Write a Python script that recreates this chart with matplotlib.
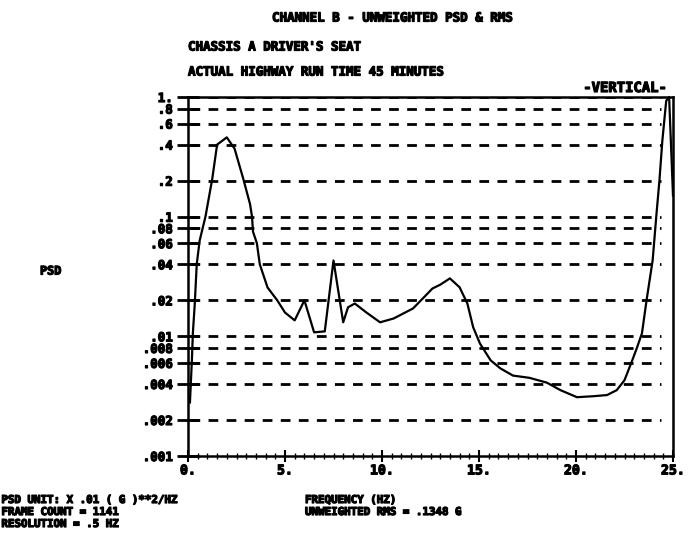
import numpy as np
import matplotlib.pyplot as plt
import matplotlib.patheffects as pe

# PSD curve (frequency in Hz, PSD in units of .01 G^2/Hz)
freq = [0.1, 0.2, 0.25, 0.35, 0.45, 0.6, 0.9, 1.25, 1.5, 2.0, 2.4, 2.85, 3.2,
        3.3, 3.35, 3.55, 3.7, 4.1, 4.6, 5.0, 5.5, 6.0, 6.5, 7.05, 7.5, 8.0,
        8.25, 8.6, 9.2, 9.9, 10.6, 11.6, 12.1, 12.6, 13.0, 13.5, 14.0, 14.4,
        14.7, 15.05, 15.6, 16.1, 16.75, 17.6, 18.5, 19.2, 20.05, 20.9, 21.6,
        22.1, 22.5, 22.9, 23.15, 23.4, 23.65, 23.95, 24.15, 24.3, 24.45, 24.65,
        24.8, 25.0]
psd = [0.0028, 0.0063, 0.0106, 0.0188, 0.040, 0.063, 0.10, 0.207, 0.40, 0.46,
       0.37, 0.207, 0.127, 0.10, 0.075, 0.06, 0.040, 0.0256, 0.020, 0.0158,
       0.0136, 0.020, 0.0108, 0.011, 0.043, 0.0131, 0.0175, 0.0188, 0.0158,
       0.0131, 0.0141, 0.0171, 0.0207, 0.0251, 0.027, 0.0305, 0.0257, 0.0188,
       0.0119, 0.0087, 0.0063, 0.0054, 0.0047, 0.0045, 0.0041, 0.00355, 0.0031,
       0.00316, 0.00323, 0.00355, 0.0043, 0.0063, 0.0081, 0.0106, 0.0207,
       0.043, 0.106, 0.2, 0.43, 0.93, 1.0, 0.15]

y_ticks = [0.001, 0.002, 0.004, 0.006, 0.008, 0.01, 0.02, 0.04, 0.06, 0.08,
           0.1, 0.2, 0.4, 0.6, 0.8, 1.0]
y_labels = [".001", ".002", ".004", ".006", ".008", ".01", ".02", ".04", ".06",
            ".08", ".1", ".2", ".4", ".6", ".8", "1."]
x_ticks = [0, 5, 10, 15, 20, 25]
x_labels = ["0.", "5.", "10.", "15.", "20.", "25."]

FONT = "DejaVu Sans Mono"
heavy = [pe.withStroke(linewidth=0.9, foreground="black")]

fig = plt.figure(figsize=(6.93, 5.41), dpi=100)
ax = fig.add_axes([188 / 693, 1 - 456 / 541, 485 / 693, 359 / 541])

ax.set_yscale("log")
ax.set_xlim(0, 25)
ax.set_ylim(0.001, 1.0)

# heavy dashed grid lines at every labelled level
for v in y_ticks[1:]:
    ax.axhline(v, xmin=0.005, xmax=0.975, color="black", lw=2.0,
               dashes=(3.5, 3.0), zorder=1)

ax.plot(freq, psd, color="black", lw=1.6, zorder=3, clip_on=False)

ax.set_yticks(y_ticks)
ax.set_yticklabels(y_labels, fontfamily=FONT, fontweight="bold", fontsize=9)
ax.yaxis.set_minor_locator(plt.NullLocator())
ax.tick_params(axis="y", which="major", direction="inout", length=16,
               width=2, pad=3)

ax.set_xticks(x_ticks)
ax.set_xticklabels(x_labels, fontfamily=FONT, fontweight="bold", fontsize=9.5)
ax.set_xticks(np.arange(0, 25.5, 0.5), minor=True)
ax.tick_params(axis="x", which="major", direction="inout", length=8,
               width=1.5, pad=2)
ax.tick_params(axis="x", which="minor", direction="inout", length=4, width=1)

for lab in ax.get_xticklabels() + ax.get_yticklabels():
    lab.set_path_effects(heavy)

for side in ["left", "bottom", "right", "top"]:
    ax.spines[side].set_linewidth(1.8)

txt = dict(fontfamily=FONT, fontweight="bold", color="black",
           path_effects=heavy)
fig.text(392 / 693, 1 - 18 / 541, "CHANNEL B - UNWEIGHTED PSD & RMS",
         ha="center", va="center", fontsize=9, **txt)
fig.text(188 / 693, 1 - 47 / 541, "CHASSIS A DRIVER'S SEAT",
         ha="left", va="center", fontsize=9, **txt)
fig.text(188 / 693, 1 - 72 / 541, "ACTUAL HIGHWAY RUN TIME 45 MINUTES",
         ha="left", va="center", fontsize=9, **txt)
fig.text(667 / 693, 1 - 88 / 541, "-VERTICAL-", ha="right", va="center",
         fontsize=10, **txt)
fig.text(40 / 693, 1 - 271 / 541, "PSD", ha="left", va="center",
         fontsize=8.5, **txt)

fig.text(0.002, 1 - 500 / 541, "PSD UNIT: X .01 ( G )**2/HZ",
         ha="left", va="center", fontsize=7.8, **txt)
fig.text(0.002, 1 - 512 / 541, "FRAME COUNT = 1141",
         ha="left", va="center", fontsize=7.8, **txt)
fig.text(0.002, 1 - 524 / 541, "RESOLUTION = .5 HZ",
         ha="left", va="center", fontsize=7.8, **txt)
fig.text(305 / 693, 1 - 500 / 541, "FREQUENCY (HZ)",
         ha="left", va="center", fontsize=7.8, **txt)
fig.text(305 / 693, 1 - 512 / 541, "UNWEIGHTED RMS = .1348 G",
         ha="left", va="center", fontsize=7.8, **txt)

fig.savefig("out.png", dpi=100)
plt.close(fig)
